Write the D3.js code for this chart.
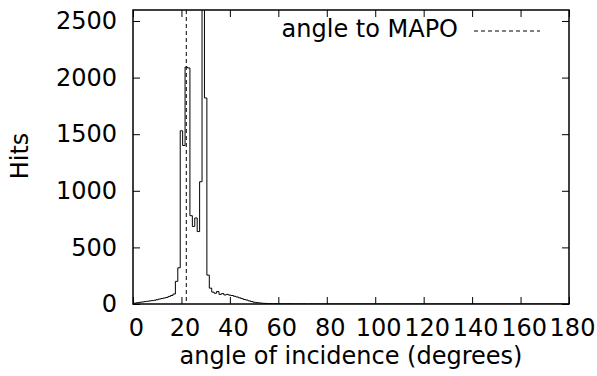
<!DOCTYPE html>
<html>
<head>
<meta charset="utf-8">
<script src="https://cdn.jsdelivr.net/npm/d3@7"></script>
<style>
  body { margin: 0; background: #fff; }
  text { font-family: "DejaVu Sans", sans-serif; fill: #000; }
</style>
</head>
<body>
<script>
// histogram bins, 1 degree wide, centred on the angle
const angles = [0, 1, 2, 3, 4, 5, 6, 7, 8, 9, 10, 11, 12, 13, 14, 15, 16, 17, 18, 19,
  20, 21, 22, 23, 24, 25, 26, 27, 28, 29, 30, 31, 32, 33, 34, 35, 36, 37, 38, 39,
  40, 41, 42, 43, 44, 45, 46, 47, 48, 49, 50, 51, 52, 53, 54, 55, 56, 57, 58, 59,
  60, 61, 62, 63, 64, 65, 66, 67, 68, 69, 70, 71, 72, 73, 74, 75];
const hits = [3, 8, 12, 15, 18, 21, 24, 27, 30, 33, 38, 44, 48, 53, 58, 67, 75, 88, 200, 320,
  1530, 1400, 2093, 2085, 780, 685, 760, 640, 1080, 3000, 1820, 255, 140, 105, 95, 110, 85, 92, 80, 85,
  78, 75, 68, 62, 55, 48, 40, 35, 28, 22, 16, 13, 10, 8, 6, 5, 4, 3, 2, 3,
  2, 1, 2, 1, 1, 2, 1, 0, 1, 1, 0, 1, 0, 0, 1, 0];
const mapoAngle = 22;
const xTicks = [0, 20, 40, 60, 80, 100, 120, 140, 160, 180];
const yTicks = [0, 500, 1000, 1500, 2000, 2500];

let width = 597,
  height = 376,
  margin = { top: 10, right: 28, bottom: 72, left: 133 };
let w = width - margin.left - margin.right,
  h = height - margin.top - margin.bottom;

let svg = d3.select("body").append("svg")
  .attr("width", width)
  .attr("height", height);

let g = svg.append("g").attr("transform", `translate(${margin.left},${margin.top})`);

let x = d3.scaleLinear().domain([0, 180]).range([0, w]);
let y = d3.scaleLinear().domain([0, 2597]).range([h, 0]);

svg.append("defs").append("clipPath").attr("id", "plot")
  .append("rect").attr("width", w).attr("height", h);

// ticks on all four sides, pointing inward
let tickStyle = sel => {
  sel.select(".domain").remove();
  sel.selectAll(".tick line").attr("stroke", "#000").attr("stroke-width", 1);
};

g.append("g").attr("transform", `translate(0,${h})`)
  .call(d3.axisBottom(x).tickValues(xTicks).tickFormat(d3.format("d")).tickSize(-7).tickPadding(15))
  .call(tickStyle)
  .call(s => s.selectAll("text").attr("font-size", 24).attr("dx", 3).attr("font-family", "DejaVu Sans"));

g.append("g")
  .call(d3.axisTop(x).tickValues(xTicks).tickSize(-7).tickFormat(""))
  .call(tickStyle);

g.append("g")
  .call(d3.axisLeft(y).tickValues(yTicks).tickFormat(d3.format("d")).tickSize(-7).tickPadding(16))
  .call(tickStyle)
  .call(s => s.selectAll("text").attr("font-size", 24).attr("font-family", "DejaVu Sans"));

g.append("g").attr("transform", `translate(${w},0)`)
  .call(d3.axisRight(y).tickValues(yTicks).tickSize(-7).tickFormat(""))
  .call(tickStyle);

// histogram as steps
let pts = angles.map((a, i) => [a - 0.5, hits[i]]);
pts.push([angles[angles.length - 1] + 0.5, 0], [180, 0]);

let line = d3.line()
  .x(d => x(d[0]))
  .y(d => y(d[1]))
  .curve(d3.curveStepAfter);

g.append("path")
  .datum(pts)
  .attr("clip-path", "url(#plot)")
  .attr("fill", "none")
  .attr("stroke", "#000")
  .attr("stroke-width", 1)
  .attr("d", line);

// angle to MAPO
g.append("line")
  .attr("x1", x(mapoAngle)).attr("x2", x(mapoAngle))
  .attr("y1", 0).attr("y2", h)
  .attr("stroke", "#000")
  .attr("stroke-dasharray", "4,3");

// frame
g.append("rect")
  .attr("width", w).attr("height", h)
  .attr("fill", "none")
  .attr("stroke", "#000")
  .attr("stroke-width", 1.5);

// key
g.append("text")
  .attr("x", 458 - margin.left).attr("y", 37 - margin.top)
  .attr("text-anchor", "end")
  .attr("font-size", 24)
  .text("angle to MAPO");

g.append("line")
  .attr("x1", 474 - margin.left).attr("x2", 540 - margin.left)
  .attr("y1", 31 - margin.top).attr("y2", 31 - margin.top)
  .attr("stroke", "#000")
  .attr("stroke-dasharray", "4,3");

// axis titles
svg.append("text")
  .attr("x", margin.left + w / 2).attr("y", 364)
  .attr("text-anchor", "middle")
  .attr("font-size", 24)
  .text("angle of incidence (degrees)");

svg.append("text")
  .attr("transform", "translate(28,156) rotate(-90)")
  .attr("text-anchor", "middle")
  .attr("font-size", 24)
  .text("Hits");
</script>
</body>
</html>
